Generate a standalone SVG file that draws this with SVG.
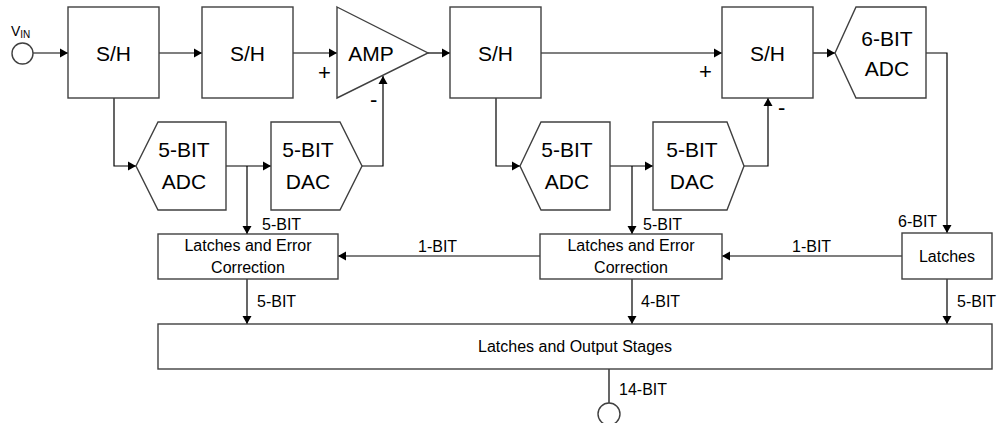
<svg xmlns="http://www.w3.org/2000/svg" width="998" height="423" viewBox="0 0 998 423">
<style>
.b{fill:#fff;stroke:#404040;stroke-width:1.4}
.c{fill:none;stroke:#000;stroke-width:1.2}
.t{font-family:"Liberation Sans",Arial,sans-serif;fill:#000}
.L{font-size:21px;text-anchor:middle}
.s{font-size:16px}
.m{text-anchor:middle}
</style>
<defs>
<marker id="a" markerUnits="userSpaceOnUse" markerWidth="9" markerHeight="10" refX="8" refY="5" orient="auto">
<path d="M0,0.5 L8,5 L0,9.5 z" fill="#000"/>
</marker>
</defs>
<rect width="998" height="423" fill="#fff"/>
<g id="connectors">
<path class="c" d="M33,53 H68" marker-end="url(#a)"/>
<path class="c" d="M159,53 H202" marker-end="url(#a)"/>
<path class="c" d="M293,53 H337" marker-end="url(#a)"/>
<path class="c" d="M428,53 H450" marker-end="url(#a)"/>
<path class="c" d="M541,53 H722" marker-end="url(#a)"/>
<path class="c" d="M813,53 H835" marker-end="url(#a)"/>
<path class="c" d="M114,98 V166 H136" marker-end="url(#a)"/>
<path class="c" d="M226,166 H271" marker-end="url(#a)"/>
<path class="c" d="M247,166 V234" marker-end="url(#a)"/>
<path class="c" d="M362,166 H383 V76" marker-end="url(#a)"/>
<path class="c" d="M496,98 V166 H520" marker-end="url(#a)"/>
<path class="c" d="M610,166 H653" marker-end="url(#a)"/>
<path class="c" d="M632,166 V234" marker-end="url(#a)"/>
<path class="c" d="M744,166 H768 V98" marker-end="url(#a)"/>
<path class="c" d="M926,53 H947 V233" marker-end="url(#a)"/>
<path class="c" d="M902,256 H722" marker-end="url(#a)"/>
<path class="c" d="M540,256 H338" marker-end="url(#a)"/>
<path class="c" d="M247,279 V324" marker-end="url(#a)"/>
<path class="c" d="M632,279 V324" marker-end="url(#a)"/>
<path class="c" d="M947,279 V324" marker-end="url(#a)"/>
<path class="c" d="M609,369 V403"/>
<text class="t s" x="262" y="230">5-BIT</text>
<text class="t s" x="643" y="230">5-BIT</text>
<text class="t s" x="898" y="227">6-BIT</text>
<text class="t s" x="418" y="252">1-BIT</text>
<text class="t s" x="792" y="252">1-BIT</text>
<text class="t s" x="257" y="307">5-BIT</text>
<text class="t s" x="641" y="307">4-BIT</text>
<text class="t s" x="957" y="307">5-BIT</text>
<text class="t s" x="619" y="395">14-BIT</text>
<text class="t" x="318" y="80" font-size="22">+</text>
<text class="t" x="370" y="107" font-size="22">-</text>
<text class="t" x="699" y="79" font-size="22">+</text>
<text class="t" x="778" y="115" font-size="22">-</text>
</g>
<g id="vin">
<circle class="b" cx="22.5" cy="53.5" r="10.5"/>
<text class="t" x="11" y="36" font-size="14">V<tspan font-size="10" dy="2">IN</tspan></text>
</g>
<g id="sh1"><rect class="b" x="68" y="7" width="91" height="91"/><text class="t L" x="113.5" y="61">S/H</text></g>
<g id="sh2"><rect class="b" x="202" y="7" width="91" height="91"/><text class="t L" x="247.5" y="61">S/H</text></g>
<g id="amp"><path class="b" d="M337,7 L428,53 L337,98 z"/><text class="t L" x="371" y="61">AMP</text></g>
<g id="sh3"><rect class="b" x="450" y="7" width="91" height="91"/><text class="t L" x="495.5" y="61">S/H</text></g>
<g id="sh4"><rect class="b" x="722" y="7" width="91" height="91"/><text class="t L" x="767.5" y="61">S/H</text></g>
<g id="adc6"><path class="b" d="M835,53 L856,7 H926 V98 H856 z"/><text class="t L" x="887" y="45.5">6-BIT</text><text class="t L" x="887" y="75.5">ADC</text></g>
<g id="adc1"><path class="b" d="M136,166 L158,122 H226 V210 H158 z"/><text class="t L" x="184" y="157">5-BIT</text><text class="t L" x="184" y="189">ADC</text></g>
<g id="dac1"><path class="b" d="M271,122 H340 L362,166 L340,210 H271 z"/><text class="t L" x="308" y="157">5-BIT</text><text class="t L" x="308" y="189">DAC</text></g>
<g id="adc2"><path class="b" d="M520,166 L541,122 H610 V210 H541 z"/><text class="t L" x="567" y="157">5-BIT</text><text class="t L" x="567" y="189">ADC</text></g>
<g id="dac2"><path class="b" d="M653,122 H727 L744,166 L727,210 H653 z"/><text class="t L" x="692" y="157">5-BIT</text><text class="t L" x="692" y="189">DAC</text></g>
<g id="lec1"><rect class="b" x="158" y="234" width="180" height="45"/><text class="t s m" x="248" y="251">Latches and Error</text><text class="t s m" x="248" y="273">Correction</text></g>
<g id="lec2"><rect class="b" x="540" y="234" width="182" height="45"/><text class="t s m" x="631" y="251">Latches and Error</text><text class="t s m" x="631" y="273">Correction</text></g>
<g id="latches"><rect class="b" x="902" y="233" width="90" height="46"/><text class="t s m" x="947" y="262">Latches</text></g>
<g id="output"><rect class="b" x="158" y="324" width="834" height="45"/><text class="t s m" x="575" y="352">Latches and Output Stages</text></g>
<g id="out"><circle class="b" cx="609" cy="414" r="11"/></g>
</svg>
